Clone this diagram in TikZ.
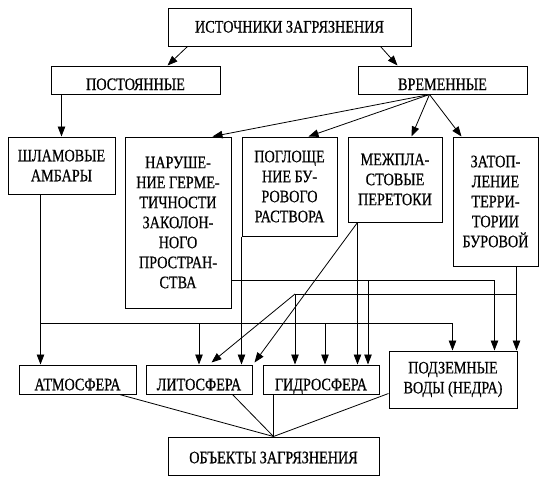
\documentclass[tikz,border=0pt]{standalone}
\usepackage{fontspec}
\setmainfont{Liberation Serif}[FakeStretch=0.81,FakeBold=0.6]
\usetikzlibrary{arrows.meta,calc}
\begin{document}
\begin{tikzpicture}[x=1pt,y=-1pt,
  box/.style={draw, line width=1pt, inner sep=0pt, align=center, font=\fontsize{17.5}{20}\selectfont},
  low/.style={text height=#1, text depth=0pt},
  arr/.style={line width=0.8pt, -{Triangle[length=10pt,width=7.5pt]}},
  ln/.style={line width=0.8pt}]
\useasboundingbox (0,0) rectangle (550,480);
% boxes
\node[box, minimum width=243pt, minimum height=38pt, low=11pt] (src) at (289.5,27) {ИСТОЧНИКИ ЗАГРЯЗНЕНИЯ};
\node[box, minimum width=169pt, minimum height=28pt, low=20pt] (post) at (135.5,80) {ПОСТОЯННЫЕ};
\node[box, minimum width=169pt, minimum height=28pt, low=20pt] (temp) at (442.5,80) {ВРЕМЕННЫЕ};
\node[box, minimum width=107pt, minimum height=57pt] (shlam) at (61.5,165.5) {ШЛАМОВЫЕ\\АМБАРЫ};
\node[box, minimum width=106pt, minimum height=171pt] (nar) at (178,222.5) {НАРУШЕ-\\НИЕ ГЕРМЕ-\\ТИЧНОСТИ\\ЗАКОЛОН-\\НОГО\\ПРОСТРАН-\\СТВА};
\node[box, minimum width=95pt, minimum height=99pt] (pogl) at (289.5,186.5) {ПОГЛОЩЕ\\НИЕ БУ-\\РОВОГО\\РАСТВОРА};
\node[box, minimum width=94pt, minimum height=85pt] (mezh) at (395,179.5) {МЕЖПЛА-\\СТОВЫЕ\\ПЕРЕТОКИ};
\node[box, minimum width=85pt, minimum height=129pt] (zatop) at (495.5,201.5) {ЗАТОП-\\ЛЕНИЕ\\ТЕРРИ-\\ТОРИИ\\БУРОВОЙ};
\node[box, minimum width=117pt, minimum height=29pt, low=21.5pt] (atm) at (77.5,379.5) {АТМОСФЕРА};
\node[box, minimum width=106pt, minimum height=29pt, low=21.5pt] (lito) at (199,379.5) {ЛИТОСФЕРА};
\node[box, minimum width=116pt, minimum height=29pt, low=21.5pt] (gidro) at (321,379.5) {ГИДРОСФЕРА};
\node[box, minimum width=128pt, minimum height=57pt] (podz) at (453,379.5) {ПОДЗЕМНЫЕ\\ВОДЫ (НЕДРА)};
\node[box, minimum width=211pt, minimum height=38pt, low=14.5pt] (obj) at (273.5,456) {ОБЪЕКТЫ ЗАГРЯЗНЕНИЯ};
% top connectors
\draw[arr] ([xshift=20pt]src.south west) -- ([xshift=117pt]post.north west);
\draw[arr] ([xshift=-31pt]src.south east) -- ([xshift=40pt]temp.north west);
\draw[arr] ([xshift=11pt]post.south west) coordinate (p0) -- (p0 |- shlam.north);
\coordinate (tO) at ([xshift=72pt]temp.south west);
\draw[arr] (tO) -- ([xshift=-19pt]nar.north east);
\draw[arr] (tO) -- ([xshift=-29pt]pogl.north east);
\draw[arr] (tO) -- ([xshift=64pt]mezh.north west);
\draw[arr] (tO) -- ([xshift=9pt]zatop.north west);
% junction points
\coordinate (j1) at (41,323);
\coordinate (j2) at (199,323);
\coordinate (j3) at (325,323);
\coordinate (j4) at (368,280);
\coordinate (j6) at (295,294);
% from ШЛАМОВЫЕ АМБАРЫ
\draw[arr] ([xshift=33pt]shlam.south west) coordinate (s0) -- (s0 |- atm.north);
\draw[arr] (j1) -| ([xshift=64pt]podz.north west);
\draw[arr] (j2) -- (j2 |- lito.north);
\draw[arr] (j3) -- (j3 |- gidro.north);
% from ПОГЛОЩЕНИЕ
\draw[arr] (pogl.south west) -- (pogl.south west |- lito.north);
% from НАРУШЕНИЕ
\draw[arr] (nar.east |- j4) -| ([xshift=106pt]podz.north west);
\draw[arr] (j4) -- (j4 |- gidro.north);
% from ЗАТОПЛЕНИЕ
\draw[arr] ([xshift=64pt]zatop.south west) coordinate (z0) -- (z0 |- podz.north);
\draw[ln] (z0 |- j6) -- (j6);
\draw[arr] (j6) -- (j6 |- gidro.north);
\draw[arr] (j6) -- ([xshift=66pt,yshift=2pt]lito.north west);
% from МЕЖПЛАСТОВЫЕ
\draw[arr] ([xshift=10pt]mezh.south west) coordinate (m0) -- (m0 |- gidro.north);
\draw[arr] (m0) -- ([xshift=2pt,yshift=2pt]lito.north east);
% to ОБЪЕКТЫ
\draw[ln] ([xshift=101pt]atm.south west) -- (obj.north);
\draw[ln] ([xshift=87pt]lito.south west) -- (obj.north);
\draw[ln] (obj.north |- gidro.south) -- (obj.north);
\draw[ln] ([yshift=15pt]podz.south west) -- (obj.north);
\end{tikzpicture}
\end{document}
